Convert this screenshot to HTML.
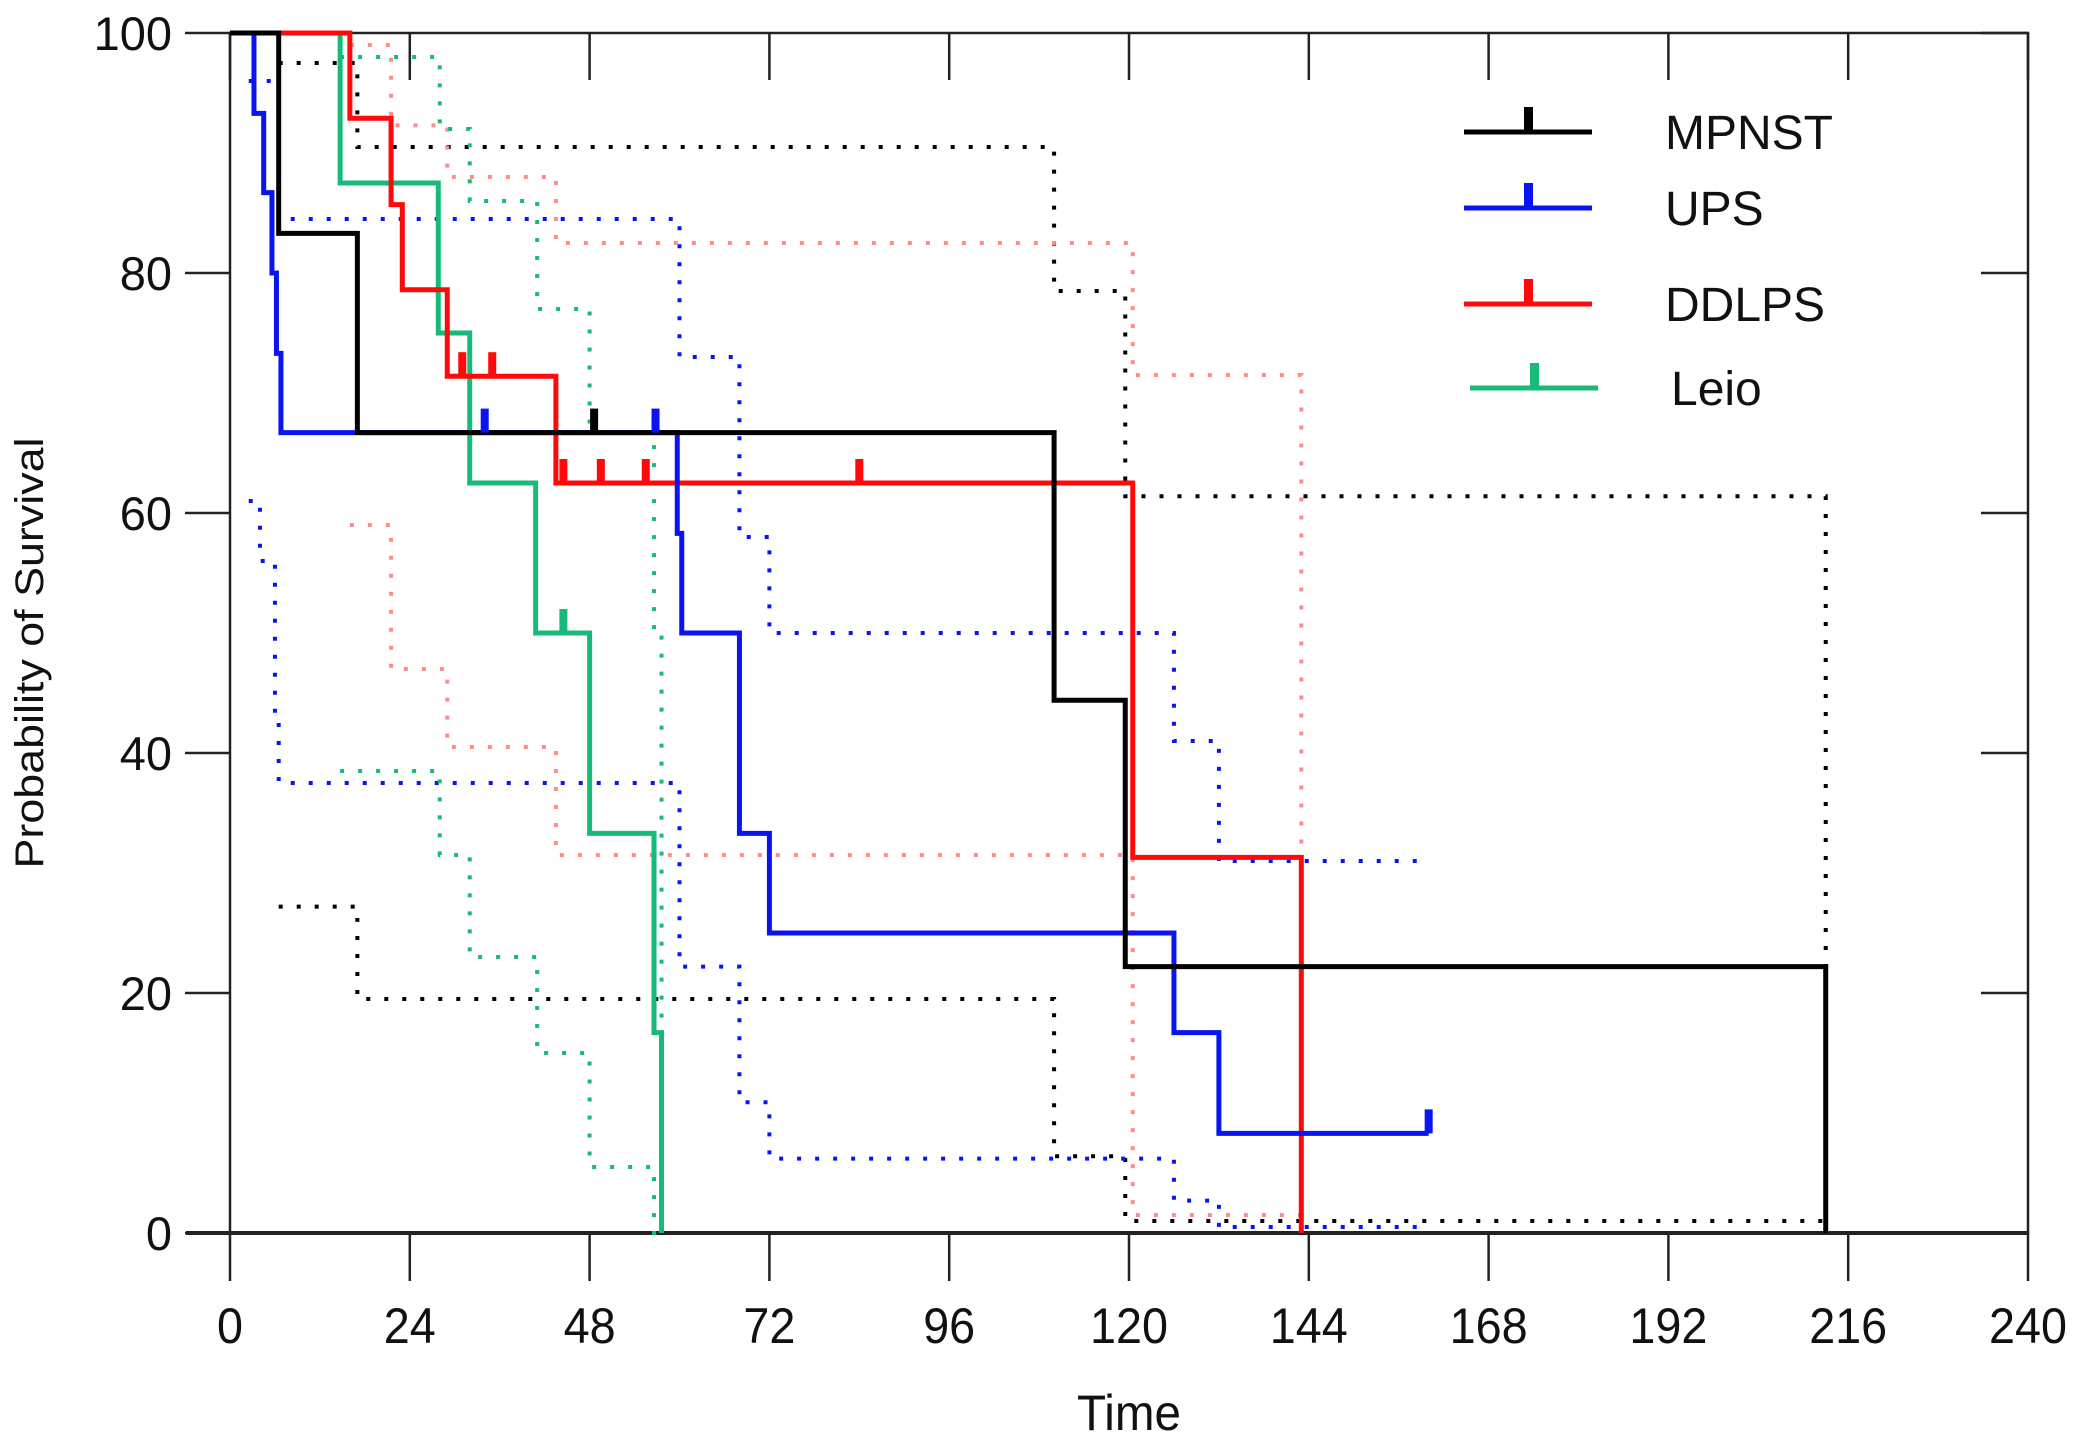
<!DOCTYPE html>
<html><head><meta charset="utf-8"><style>
body{margin:0;background:#fff;}
svg{display:block;font-family:"Liberation Sans",Arial,sans-serif;}
</style></head><body>
<svg id="chart" width="2081" height="1444" viewBox="0 0 2081 1444" xmlns="http://www.w3.org/2000/svg">
<g id="axes"></g>
<g id="series"></g>
<g id="legend"></g>
<text x="1129" y="1430" font-size="50" text-anchor="middle" fill="#111" textLength="104" lengthAdjust="spacingAndGlyphs">Time</text>
<text transform="translate(43,653) rotate(-90)" font-size="40" text-anchor="middle" fill="#111" textLength="431" lengthAdjust="spacingAndGlyphs">Probability of Survival</text>
</svg>
<script>
const xTicks = [0,24,48,72,96,120,144,168,192,216,240];
const yTicks = [0,20,40,60,80,100];
const seriesNames = ["MPNST","UPS","DDLPS","Leio"];
const seriesColors = ["#000000","#0a14f0","#ff0a0a","#17ba78"];
const ciColors = ["#000000","#0a14f0","#ff8c8c","#17ba78"];
// Kaplan-Meier step data: times where value starts, values, end time
const mpnstT = [0,6.5,17,110,119.5]; const mpnstV = [100,83.3,66.7,44.4,22.2]; const mpnstEnd = 213;
const upsT = [2.5,3.2,4.5,5.6,6.2,6.8,59.7,60.3,68,72,126,132]; const upsV = [100,93.3,86.7,80,73.3,66.7,58.3,50,33.3,25,16.7,8.3]; const upsEnd = 160;
const ddlpsT = [6.5,16,21.5,23,29,43.5,120.5]; const ddlpsV = [100,92.9,85.7,78.6,71.4,62.5,31.3]; const ddlpsEnd = 143;
const leioT = [14.7,27.8,32,40.8,48,56.6]; const leioV = [87.5,75,62.5,50,33.3,16.7]; const leioEnd = 57.6;
const leioStart = 100;
// Confidence bands
const mpnstUpT = [6.5,17,110,119.5]; const mpnstUpV = [97.5,90.5,78.5,61.4];
const mpnstLoT = [6.5,17,110,119.5]; const mpnstLoV = [27.2,19.5,6.4,1];
const upsUpT = [2.5,6.5,60,68,72,126,132]; const upsUpV = [96,84.5,73,58,50,41,31];
const upsLoT = [2.5,4,6,6.5,60,68,72,126,132]; const upsLoV = [61,56,43,37.5,22.2,10.9,6.2,2.7,0.5];
const ddlpsUpT = [16,21.5,29,43.5,120.5]; const ddlpsUpV = [99,92.3,88,82.5,71.5];
const ddlpsLoT = [16,21.5,29,43.5,120.5]; const ddlpsLoV = [59,47,40.5,31.5,1.5];
const leioUpT = [14.7,28,32,41,48,56.6]; const leioUpV = [98,92,86,77,66.7,50];
const leioLoT = [14.7,28,32,41,48,56.6]; const leioLoV = [38.5,31.5,23,15,5.5,0];
// Censor marks
const mpnstCens = [48.6]; const upsCens = [34,56.8,160]; const ddlpsCens = [31,35,44.5,49.5,55.5,84]; const leioCens = [44.5];

const X0=230, X1=2028, Y0=1233, Y1=33;
const xs = t => X0 + (t/240)*(X1-X0);
const ys = v => Y0 - (v/100)*(Y0-Y1);
const NS="http://www.w3.org/2000/svg";
function mk(tag, parent){const e=document.createElementNS(NS,tag);parent.appendChild(e);return e;}
const axes=document.getElementById('axes');
const ser=document.getElementById('series');
const leg=document.getElementById('legend');

let fr=mk('rect',axes);


fr.setAttribute('x',X0);fr.setAttribute('y',Y1);fr.setAttribute('width',X1-X0);fr.setAttribute('height',Y0-Y1);
fr.setAttribute('fill','none');fr.setAttribute('stroke','#222');fr.setAttribute('stroke-width','2.5');
let xb=mk('line',axes);


xb.setAttribute('x1',186);xb.setAttribute('x2',X1);xb.setAttribute('y1',Y0);xb.setAttribute('y2',Y0);
xb.setAttribute('stroke','#222');xb.setAttribute('stroke-width','4');

xTicks.forEach(t=>{
  let l=mk('line',axes);
  
  
  l.setAttribute('x1',xs(t));l.setAttribute('x2',xs(t));l.setAttribute('y1',Y0);l.setAttribute('y2',Y0+48);
  l.setAttribute('stroke','#222');l.setAttribute('stroke-width','2.5');
  let l2=mk('line',axes);
  
  
  l2.setAttribute('x1',xs(t));l2.setAttribute('x2',xs(t));l2.setAttribute('y1',Y1);l2.setAttribute('y2',Y1+47);
  l2.setAttribute('stroke','#222');l2.setAttribute('stroke-width','2.5');
  let tx=mk('text',axes);
  
  
  tx.setAttribute('x',xs(t));tx.setAttribute('y',1343);tx.setAttribute('font-size','50');
  tx.setAttribute('text-anchor','middle');tx.setAttribute('fill','#111');
  tx.setAttribute('textLength',String(t).length*26);tx.setAttribute('lengthAdjust','spacingAndGlyphs');
  tx.textContent=t;
});
yTicks.forEach(v=>{
  let l=mk('line',axes);
  
  
  l.setAttribute('x1',185);l.setAttribute('x2',X0);l.setAttribute('y1',ys(v));l.setAttribute('y2',ys(v));
  l.setAttribute('stroke','#222');l.setAttribute('stroke-width','2.5');
  let l2=mk('line',axes);
  
  
  l2.setAttribute('x1',X1-47);l2.setAttribute('x2',X1);l2.setAttribute('y1',ys(v));l2.setAttribute('y2',ys(v));
  l2.setAttribute('stroke','#222');l2.setAttribute('stroke-width','2.5');
  let tx=mk('text',axes);
  
  
  tx.setAttribute('x',172);tx.setAttribute('y',ys(v)+17);tx.setAttribute('font-size','47');
  tx.setAttribute('text-anchor','end');tx.setAttribute('fill','#111');tx.textContent=v;
});

function stepPath(T,V,end,startV,dropTo){
  let d='';
  if(startV!==undefined){d+='M'+xs(T[0])+','+ys(startV)+' L'+xs(T[0])+','+ys(V[0]);}
  else d+='M'+xs(T[0])+','+ys(V[0]);
  for(let i=1;i<T.length;i++){d+=' L'+xs(T[i])+','+ys(V[i-1])+' L'+xs(T[i])+','+ys(V[i]);}
  d+=' L'+xs(end)+','+ys(V[V.length-1]);
  if(dropTo!==undefined) d+=' L'+xs(end)+','+ys(dropTo);
  return d;
}
function drawPath(d,color,name,dotted){
  let p=mk('path',ser);
  
  
  p.setAttribute('d',d);p.setAttribute('fill','none');p.setAttribute('stroke',color);
  if(dotted){p.setAttribute('stroke-width','4');p.setAttribute('stroke-dasharray','4 14');}
  else{p.setAttribute('stroke-width','5');}
}
function stepVal(T,V,t){let v=V[0];for(let i=0;i<T.length;i++){if(t>=T[i])v=V[i];}return v;}
function drawCens(C,T,V,color,name){
  C.forEach(t=>{
    let r=mk('rect',ser);
    
    
    const v=stepVal(T,V,t);
    r.setAttribute('x',xs(t)-4);r.setAttribute('y',ys(v)-24);r.setAttribute('width',8);r.setAttribute('height',24);
    r.setAttribute('fill',color);
  });
}
drawPath(stepPath(mpnstUpT,mpnstUpV,213,undefined,0.5),ciColors[0],'mpnst-upper-ci',true);
drawPath(stepPath(mpnstLoT,mpnstLoV,213),ciColors[0],'mpnst-lower-ci',true);
drawPath(stepPath(upsUpT,upsUpV,159),ciColors[1],'ups-upper-ci',true);
drawPath(stepPath(upsLoT,upsLoV,159),ciColors[1],'ups-lower-ci',true);
drawPath(stepPath(ddlpsUpT,ddlpsUpV,143,undefined,0),ciColors[2],'ddlps-upper-ci',true);
drawPath(stepPath(ddlpsLoT,ddlpsLoV,143),ciColors[2],'ddlps-lower-ci',true);
drawPath(stepPath(leioUpT,leioUpV,57.6,undefined,0),ciColors[3],'leio-upper-ci',true);
drawPath(stepPath(leioLoT,leioLoV,57.6),ciColors[3],'leio-lower-ci',true);
drawPath(stepPath(leioT,leioV,leioEnd,leioStart,0),seriesColors[3],'leio-curve',false);
drawPath(stepPath(ddlpsT,ddlpsV,ddlpsEnd,undefined,0),seriesColors[2],'ddlps-curve',false);
drawPath(stepPath(upsT,upsV,upsEnd),seriesColors[1],'ups-curve',false);
drawPath('M'+xs(0)+','+ys(100)+' '+stepPath(mpnstT,mpnstV,mpnstEnd,undefined,0).slice(1),seriesColors[0],'mpnst-curve',false);
drawCens(mpnstCens,mpnstT,mpnstV,seriesColors[0],'mpnst-censor-mark');
drawCens(upsCens,upsT,upsV,seriesColors[1],'ups-censor-mark');
drawCens(ddlpsCens,ddlpsT,ddlpsV,seriesColors[2],'ddlps-censor-mark');
drawCens(leioCens,leioT,leioV,seriesColors[3],'leio-censor-mark');

const legY=[132,208,304,388];
const legX=[1464,1464,1464,1470];
seriesNames.forEach((n,i)=>{
  let l=mk('line',leg);
  
  
  l.setAttribute('x1',legX[i]);l.setAttribute('x2',legX[i]+128);l.setAttribute('y1',legY[i]);l.setAttribute('y2',legY[i]);
  l.setAttribute('stroke',seriesColors[i]);l.setAttribute('stroke-width','5');
  let r=mk('rect',leg);
  
  
  r.setAttribute('x',legX[i]+60);r.setAttribute('y',legY[i]-25);r.setAttribute('width',9);r.setAttribute('height',25);
  r.setAttribute('fill',seriesColors[i]);
  let t=mk('text',leg);
  
  
  t.setAttribute('x',legX[i]+201);t.setAttribute('y',legY[i]+17);t.setAttribute('font-size','48');
  t.setAttribute('fill','#111');t.textContent=n;
});
</script>
</body></html>
